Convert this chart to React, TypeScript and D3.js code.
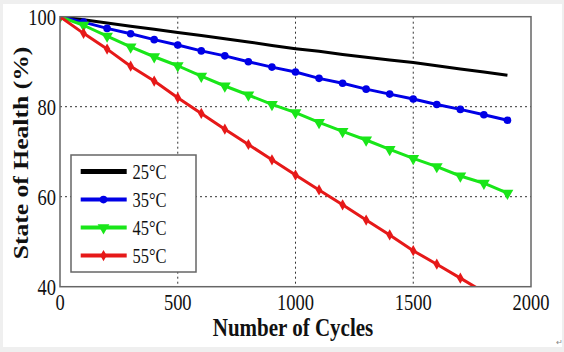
import React from 'react';
import * as d3 from 'd3';

const cycles = [0, 100, 200, 300, 400, 500, 600, 700, 800, 900, 1000, 1100, 1200, 1300, 1400, 1500, 1600, 1700, 1800, 1900];
const soh25 = [100, 99.3, 98.6, 97.9, 97.2, 96.5, 95.8, 95.1, 94.4, 93.6, 92.9, 92.3, 91.6, 91.0, 90.4, 89.8, 89.1, 88.4, 87.7, 87.0];
const soh35 = [100, 98.8, 97.4, 96.2, 94.9, 93.7, 92.4, 91.3, 90.0, 88.8, 87.7, 86.3, 85.2, 83.9, 82.8, 81.7, 80.5, 79.4, 78.2, 77.0];
const soh45 = [100, 98.1, 95.7, 93.3, 91.1, 89.1, 86.8, 84.6, 82.6, 80.5, 78.7, 76.5, 74.5, 72.6, 70.5, 68.5, 66.7, 64.6, 63.0, 60.8];
const soh55 = [100, 96.3, 92.8, 89.0, 85.7, 82.0, 78.5, 75.0, 71.6, 68.2, 64.8, 61.5, 58.2, 54.8, 51.5, 48.0, 45.0, 41.9, 38.8];
const seriesNames = ['25\u00b0C', '35\u00b0C', '45\u00b0C', '55\u00b0C'];
const xTicks = [0, 500, 1000, 1500, 2000];
const yTicks = [40, 60, 80, 100];
const xGrid = [500, 1000, 1500];
const yGrid = [60, 80];

const W = 564;
const H = 352;
const L = 60, R = 531, T = 16.7, B = 286.7;
const SY = 1.22;
const FONT = '"Liberation Serif", "Times New Roman", serif';

const colors = ['#000000', '#0000e6', '#19e619', '#e61919'];
const markers = ['none', 'circle', 'tri', 'diamond'];

function Marker({ kind, cx, cy, color }: { kind: string; cx: number; cy: number; color: string }) {
  if (kind === 'circle') return <circle cx={cx} cy={cy} r={3.8} fill={color} />;
  if (kind === 'tri') {
    const p = d3.symbol(d3.symbolTriangle, 60)();
    return <path d={p || ''} transform={`translate(${cx},${cy}) rotate(180)`} fill={color} />;
  }
  if (kind === 'diamond') {
    const p = d3.symbol(d3.symbolDiamond, 36)();
    return <path d={p || ''} transform={`translate(${cx},${cy})`} fill={color} />;
  }
  return null;
}

function SText({ x, y, children, size, anchor = 'start', weight = 'normal', rotate = 0, fill = '#111' }: any) {
  return (
    <g transform={`translate(${x},${y}) scale(1,${SY})${rotate ? ` rotate(${rotate})` : ''}`}>
      <text x={0} y={0} fontSize={size} fontFamily={FONT} fontWeight={weight} textAnchor={anchor} fill={fill}>
        {children}
      </text>
    </g>
  );
}

export default function App() {
  const x = d3.scaleLinear().domain([0, 2000]).range([L, R]);
  const y = d3.scaleLinear().domain([40, 100]).range([B, T]);
  const line = d3.line<[number, number]>().x((d) => x(d[0])).y((d) => y(d[1]));
  const data = [soh25, soh35, soh45, soh55].map((vals) => vals.map((v, i) => [cycles[i], v] as [number, number]));

  const legY = (i: number) => 171.6 + i * 28;

  return (
    <svg width={W} height={H} style={{ position: 'absolute', left: 0, top: 0, display: 'block' }}>
      <rect x={0} y={0} width={W} height={H} fill="#efefef" />
      <rect x={3} y={4} width={559} height={343} fill="#ffffff" />
      <defs>
        <clipPath id="plotclip">
          <rect x={L} y={T} width={R - L} height={B - T} />
        </clipPath>
      </defs>
      {xGrid.map((g) => (
        <line key={'gx' + g} x1={x(g)} x2={x(g)} y1={T} y2={B} stroke="#333" strokeWidth={1} strokeDasharray="2,3" />
      ))}
      {yGrid.map((g) => (
        <line key={'gy' + g} x1={L} x2={R} y1={y(g)} y2={y(g)} stroke="#333" strokeWidth={1} strokeDasharray="2,3" />
      ))}
      <g clipPath="url(#plotclip)">
        {data.map((d, si) => (
          <g key={'s' + si}>
            <path d={line(d) || ''} fill="none" stroke={colors[si]} strokeWidth={3} strokeLinejoin="round" />
            {d.map((p, i) => (
              <Marker key={i} kind={markers[si]} cx={x(p[0])} cy={y(p[1])} color={colors[si]} />
            ))}
          </g>
        ))}
      </g>
      <rect x={L} y={T} width={R - L} height={B - T} fill="none" stroke="#666" strokeWidth={1.5} />
      {yTicks.map((t) => (
        <SText key={'yt' + t} x={56} y={y(t) + 8} size={18.5} anchor="end">{String(t)}</SText>
      ))}
      {xTicks.map((t) => (
        <SText key={'xt' + t} x={x(t)} y={310} size={18.5} anchor="middle">{String(t)}</SText>
      ))}
      <SText x={293} y={336} size={21} anchor="middle" weight="bold">Number of Cycles</SText>
      <SText x={28} y={153} size={21} anchor="middle" weight="bold" rotate={-90}>State of Health (%)</SText>
      <rect x={71} y={155} width={125} height={117} fill="#fff" stroke="#666" strokeWidth={1.5} />
      {seriesNames.map((n, i) => (
        <g key={'lg' + i}>
          <line x1={80.7} x2={126.7} y1={legY(i)} y2={legY(i)} stroke={colors[i]} strokeWidth={i === 0 ? 5 : 4} />
          <Marker kind={markers[i]} cx={103.5} cy={legY(i)} color={colors[i]} />
          <SText x={132.5} y={legY(i) + 7.5} size={16.5} anchor="start">{n}</SText>
        </g>
      ))}
      <text x={556} y={345} fontSize={8} fill="#888" fontFamily={FONT}>{'\u21b5'}</text>
    </svg>
  );
}
